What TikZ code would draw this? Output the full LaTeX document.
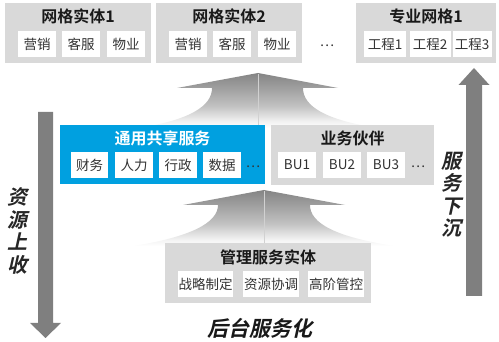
\documentclass[tikz,border=0pt]{standalone}
\usepackage{fontspec}
\setmainfont{Noto Sans CJK SC}[BoldFont={Noto Sans CJK SC Bold}]
\newfontfamily\bifont{Noto Sans CJK SC Bold}[FakeSlant=0.22]
\definecolor{boxgray}{HTML}{D9D9D9}
\definecolor{sblue}{HTML}{00A0E0}
\definecolor{arrgray}{HTML}{7F7F7F}
\definecolor{txt}{HTML}{333333}
\pgfdeclareverticalshading{fanshade}{100bp}{color(0bp)=(white); color(25bp)=(white);
  color(31bp)=(black!5); color(45bp)=(black!24); color(62bp)=(black!38); color(75bp)=(black!48);
  color(100bp)=(black!48)}
\tikzset{
  gbox/.style={fill=boxgray, draw=none, inner sep=0pt},
  bbox/.style={fill=sblue, draw=none, inner sep=0pt},
  wbox/.style={fill=white, draw=none, inner sep=0pt, minimum height=26pt, text=txt,
     font=\fontsize{13.5pt}{15pt}\selectfont},
  ttl/.style={inner sep=0pt, font=\bfseries\fontsize{16pt}{18pt}\selectfont, text=black!90},
  dots/.style={inner sep=0pt, anchor=base, text=txt, font=\fontsize{13.5pt}{15pt}\selectfont},
  vtext/.style={inner sep=0pt, align=center, text=black!85, font=\bifont\fontsize{20pt}{22.5pt}\selectfont},
  fan/.style={shading=fanshade, draw=none},
  midline/.style={draw=white!82!black, line width=0.6pt},
  bigarrow/.style={fill=arrgray, draw=none}
}
\begin{document}
\begin{tikzpicture}[x=1pt,y=-1pt]
\useasboundingbox (0,0) rectangle (499,342);
% fans
\path[fan] (258,73) -- (338,88) -- (303,88) .. controls (303,106) and (325,120) .. (378,128)
  -- (138,128) .. controls (190,120) and (212,106) .. (212,88) -- (177,88) -- cycle;
\draw[midline] (258,74) -- (258,125);
\path[fan] (264,190) -- (345,205) -- (310,205) .. controls (310,223) and (335,237) .. (395,246)
  -- (133,246) .. controls (190,237) and (218,223) .. (218,205) -- (183,205) -- cycle;
\draw[midline] (264,191) -- (264,243);
% side arrows
\path[bigarrow] (38,112) -- (53,112) -- (53,323) -- (61,323) -- (45.5,338) -- (30,323) -- (38,323) -- cycle;
\path[bigarrow] (466,296) -- (482,296) -- (482,85) -- (489.5,85) -- (474,68) -- (458.5,85) -- (466,85) -- cycle;
% top grid entities
\node[gbox, minimum width=146pt, minimum height=60pt] (g1) at (78,33) {};
\node[ttl] (g1t) at (78,16) {网格实体1};
\node[wbox, minimum width=38pt] (g1a) at (37,44) {营销};
\node[wbox, minimum width=38pt] (g1b) at (81,44) {客服};
\node[wbox, minimum width=38pt] (g1c) at (126,44) {物业};
\node[gbox, minimum width=146pt, minimum height=60pt] (g2) at (229,33) {};
\node[ttl] (g2t) at (229,16) {网格实体2};
\node[wbox, minimum width=38pt] (g2a) at (188,44) {营销};
\node[wbox, minimum width=38pt] (g2b) at (232,44) {客服};
\node[wbox, minimum width=38pt] (g2c) at (277,44) {物业};
\node[dots] (gd) at (327,47) {…};
\node[gbox, minimum width=140pt, minimum height=60pt] (g3) at (426,33) {};
\node[ttl] (g3t) at (426,16) {专业网格1};
\node[wbox, minimum width=42pt] (g3a) at (385,44) {工程1};
\node[wbox, minimum width=41pt] (g3b) at (430,44) {工程2};
\node[wbox, minimum width=39pt] (g3c) at (472,44) {工程3};
% shared services
\node[bbox, minimum width=205pt, minimum height=59pt] (s1) at (162.5,154.5) {};
\node[ttl, text=white] (s1t) at (162.5,138) {通用共享服务};
\node[wbox, minimum width=37pt] (s1a) at (89.5,165) {财务};
\node[wbox, minimum width=38pt] (s1b) at (134,165) {人力};
\node[wbox, minimum width=38pt] (s1c) at (178,165) {行政};
\node[wbox, minimum width=38pt] (s1d) at (222,165) {数据};
\node[dots] (s1e) at (253,168) {…};
\node[gbox, minimum width=163pt, minimum height=60pt] (s2) at (352.5,155) {};
\node[ttl] (s2t) at (352.5,138) {业务伙伴};
\node[wbox, minimum width=38pt] (s2a) at (297,165) {BU1};
\node[wbox, minimum width=38pt] (s2b) at (342,165) {BU2};
\node[wbox, minimum width=38pt] (s2c) at (386,165) {BU3};
\node[dots] (s2d) at (418,168) {…};
% management
\node[gbox, minimum width=206pt, minimum height=60pt] (m) at (268,273) {};
\node[ttl] (mt) at (268,257) {管理服务实体};
\node[wbox, minimum width=55pt] (ma) at (205.5,284) {战略制定};
\node[wbox, minimum width=56pt] (mb) at (271,284) {资源协调};
\node[wbox, minimum width=56pt] (mc) at (336,284) {高阶管控};
% labels
\node[vtext] (lv) at (17,231) {资\\源\\上\\收};
\node[vtext] (rv) at (451,195) {服\\务\\下\\沉};
\node[inner sep=0pt, text=black!90, font=\bifont\fontsize{21pt}{23pt}\selectfont] (bt) at (260,328) {后台服务化};
\end{tikzpicture}
\end{document}
